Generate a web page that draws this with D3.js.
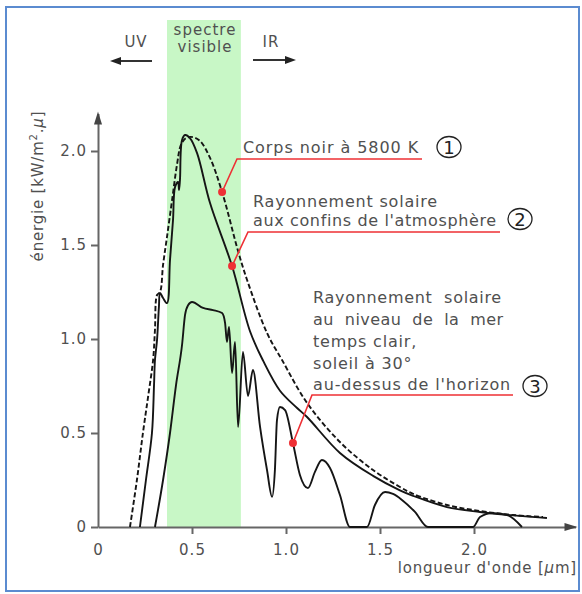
<!DOCTYPE html>
<html>
<head>
<meta charset="utf-8">
<script src="https://cdn.jsdelivr.net/npm/d3@7"></script>
<style>
  html, body { margin: 0; padding: 0; background: #fff; }
  svg { display: block; }
  text { font-family: "DejaVu Sans", Verdana, sans-serif; }
</style>
</head>
<body>
<script>
// ---------- DATA ----------
// Curve 1: black body at 5800 K (dashed)
const blackbodyLambda = [0.17,0.207,0.239,0.266,0.293,0.303,0.314,0.33,0.346,0.367,0.394,0.42,0.441,0.468,0.505,0.543,0.596,0.66,0.745,0.793,0.899,0.979,1.112,1.287,1.463,1.606,1.676,1.856,2.032,2.207,2.367];
const blackbodyValue  = [0,0.25,0.5,0.69,0.888,1.048,1.234,1.25,1.394,1.543,1.739,1.926,2.032,2.069,2.074,2.053,1.963,1.782,1.468,1.314,1.032,0.888,0.66,0.452,0.303,0.213,0.176,0.117,0.085,0.064,0.053];

// Curve 2: solar radiation at top of atmosphere
const topAtmLambda = [0.223,0.255,0.287,0.298,0.303,0.314,0.324,0.33,0.346,0.367,0.383,0.399,0.41,0.426,0.431,0.436,0.447,0.463,0.489,0.527,0.596,0.713,0.809,0.878,0.968,1.059,1.112,1.287,1.463,1.606,1.676,1.856,2.032,2.245,2.388];
const topAtmValue  = [0,0.25,0.5,0.755,0.888,0.995,1.17,1.245,1.218,1.191,1.42,1.633,1.809,1.835,1.793,1.846,2.059,2.085,2.069,1.989,1.723,1.388,1.04,0.885,0.725,0.633,0.585,0.394,0.272,0.195,0.166,0.106,0.08,0.059,0.048];

// Curve 3: solar radiation at sea level, clear sky, sun 30° above horizon
const seaLevelLambda = [0.303,0.346,0.383,0.415,0.447,0.463,0.479,0.5,0.559,0.612,0.66,0.676,0.686,0.697,0.713,0.729,0.745,0.771,0.798,0.824,0.862,0.899,0.926,0.941,0.952,0.968,0.995,1.037,1.074,1.117,1.154,1.191,1.234,1.287,1.34,1.431,1.473,1.527,1.569,1.617,1.686,1.755,1.995,2.032,2.096,2.176,2.255];
const seaLevelValue  = [0,0.25,0.5,0.755,0.968,1.128,1.18,1.197,1.165,1.154,1.138,1.085,0.984,1.064,0.819,0.984,0.532,0.931,0.697,0.835,0.532,0.303,0.16,0.303,0.569,0.638,0.622,0.447,0.277,0.207,0.293,0.356,0.314,0.17,0,0,0.117,0.186,0.176,0.144,0.08,0,0,0.053,0.074,0.064,0];

// Visible spectrum band (µm)
const visibleBand = [0.367, 0.76];

// Axis ticks
const yTickValues = [0, 0.5, 1.0, 1.5, 2.0];
const yTickLabels = ["0", "0.5", "1.0", "1.5", "2.0"];
const xTickValues = [0, 0.5, 1.0, 1.5, 2.0];
const xTickLabels = ["0", "0.5", "1.0", "1.5", "2.0"];

// Annotation anchor points (on curves 1, 2, 3)
const annotationLambda = [0.66, 0.713, 1.037];
const annotationValue  = [1.782, 1.388, 0.447];
const annotationNumbers = ["1", "2", "3"];
const annotationLines = [
  ["Corps noir à 5800 K"],
  ["Rayonnement solaire", "aux confins de l'atmosphère"],
  ["Rayonnement  solaire", "au  niveau  de  la  mer", "temps clair,", "soleil à 30°", "au-dessus de l'horizon"]
];

// ---------- DRAW ----------
const W = 582, H = 594;
const svg = d3.select("body").append("svg").attr("width", W).attr("height", H);

svg.append("rect").attr("width", W).attr("height", H).attr("fill", "#fff");

const x = d3.scaleLinear().domain([0, 2.54]).range([98, 98 + 2.54 * 188]);
const y = d3.scaleLinear().domain([0, 2.2]).range([527, 527 - 2.2 * 188]);

const axisColor = "#666";
const textColor = "#505050";

// visible band
svg.append("rect")
  .attr("x", x(visibleBand[0]))
  .attr("y", 20)
  .attr("width", x(visibleBand[1]) - x(visibleBand[0]))
  .attr("height", y(0) - 20)
  .attr("fill", "#c8f7c6");

// top labels
const topLabels = svg.append("g").attr("fill", textColor).style("font-size", "15px").style("letter-spacing", "1px");
topLabels.append("text").attr("x", 136).attr("y", 47).attr("text-anchor", "middle").text("UV");
topLabels.append("text").attr("x", 271).attr("y", 47).attr("text-anchor", "middle").text("IR");
topLabels.append("text").attr("x", 205).attr("y", 35).attr("text-anchor", "middle").text("spectre");
topLabels.append("text").attr("x", 205).attr("y", 52).attr("text-anchor", "middle").text("visible");

function arrow(x1, x2, yy) {
  const dir = Math.sign(x2 - x1);
  svg.append("line").attr("x1", x1).attr("x2", x2 - dir * 8).attr("y1", yy).attr("y2", yy)
    .attr("stroke", "#333").attr("stroke-width", 2);
  svg.append("path")
    .attr("d", `M${x2},${yy} L${x2 - dir * 11},${yy - 4} L${x2 - dir * 11},${yy + 4} Z`)
    .attr("fill", "#222");
}
arrow(152, 110, 61);
arrow(253, 296, 60);

// Y axis
const yAxis = d3.axisLeft(y).tickValues(yTickValues)
  .tickFormat((d, i) => yTickLabels[i]).tickSize(7).tickSizeOuter(0).tickPadding(4);
const gy = svg.append("g").attr("transform", `translate(${x(0)},0)`).call(yAxis);
gy.select(".domain").attr("stroke", axisColor).attr("stroke-width", 2);
gy.selectAll(".tick line").attr("stroke", axisColor).attr("stroke-width", 2);
gy.selectAll(".tick text").attr("fill", textColor).style("font-size", "15px")
  .style("letter-spacing", "1px").style("font-family", "DejaVu Sans");
svg.append("path")
  .attr("d", `M${x(0)},${y(2.2) - 2} L${x(0) - 4},${y(2.2) + 11} L${x(0) + 4},${y(2.2) + 11} Z`)
  .attr("fill", "#444");

// X axis
const xAxis = d3.axisBottom(x).tickValues(xTickValues)
  .tickFormat((d, i) => xTickLabels[i]).tickSize(7).tickSizeOuter(0).tickPadding(10);
const gx = svg.append("g").attr("transform", `translate(0,${y(0)})`).call(xAxis);
gx.select(".domain").attr("stroke", axisColor).attr("stroke-width", 2);
gx.selectAll(".tick line").attr("stroke", axisColor).attr("stroke-width", 2)
  .attr("opacity", d => d === 0 ? 0 : 1);
gx.selectAll(".tick text").attr("fill", textColor).style("font-size", "15px")
  .style("letter-spacing", "1px").style("font-family", "DejaVu Sans");
svg.append("path")
  .attr("d", `M${x(2.54) + 2},${y(0)} L${x(2.54) - 11},${y(0) - 4} L${x(2.54) - 11},${y(0) + 4} Z`)
  .attr("fill", "#444");

// axis titles
svg.append("text")
  .attr("transform", "translate(43,186) rotate(-90)")
  .attr("text-anchor", "middle").attr("fill", textColor)
  .style("font-size", "15px").style("letter-spacing", "0.8px")
  .html('énergie [kW/m<tspan dy="-6" style="font-size:10px">2</tspan><tspan dy="6">.</tspan><tspan font-style="italic">μ</tspan>]');

svg.append("text")
  .attr("x", 577).attr("y", 573).attr("text-anchor", "end").attr("fill", textColor)
  .style("font-size", "15px").style("letter-spacing", "0.8px")
  .html('longueur d\'onde [<tspan font-style="italic">μ</tspan>m]');

// curves
const zip = (a, b) => a.map((v, i) => [v, b[i]]);
const smoothLine = d3.line().x(d => x(d[0])).y(d => y(d[1])).curve(d3.curveCatmullRom.alpha(0.5));
const monoLine = d3.line().x(d => x(d[0])).y(d => y(d[1])).curve(d3.curveMonotoneX);

svg.append("path").datum(zip(seaLevelLambda, seaLevelValue))
  .attr("d", monoLine).attr("fill", "none").attr("stroke", "#151515").attr("stroke-width", 1.9);
svg.append("path").datum(zip(topAtmLambda, topAtmValue))
  .attr("d", smoothLine).attr("fill", "none").attr("stroke", "#151515").attr("stroke-width", 1.9);
svg.append("path").datum(zip(blackbodyLambda, blackbodyValue))
  .attr("d", smoothLine).attr("fill", "none").attr("stroke", "#151515").attr("stroke-width", 1.9)
  .attr("stroke-dasharray", "5,2.5");

// annotations
const red = "#ee3035";
const annLayout = [
  { tx: 243, ty: [153], fit: [176], ux1: 237, ux2: 422, uy: 159, cx: 449, cy: 147 },
  { tx: 253, ty: [207, 226], fit: [null, 244], ux1: 248, ux2: 500, uy: 232, cx: 520, cy: 219 },
  { tx: 313, ty: [303, 325, 347, 369, 390], fit: [189, 191, null, null, 198], ux1: 312, ux2: 513, uy: 395, cx: 535, cy: 386 }
];
annLayout.forEach((L, i) => {
  const px = x(annotationLambda[i]), py = y(annotationValue[i]);
  const g = svg.append("g");
  g.append("path")
    .attr("d", `M${L.ux2},${L.uy} L${L.ux1},${L.uy} L${px},${py}`)
    .attr("fill", "none").attr("stroke", red).attr("stroke-width", 1.6);
  g.append("circle").attr("cx", px).attr("cy", py).attr("r", 4).attr("fill", red);
  annotationLines[i].forEach((t, j) => {
    const tx = g.append("text").attr("x", L.tx).attr("y", L.ty[j]).attr("fill", textColor)
      .style("font-size", "16px").style("letter-spacing", "0.8px")
      .style("white-space", "pre").attr("xml:space", "preserve")
      .text(t);
    if (L.fit[j]) tx.attr("textLength", L.fit[j]).attr("lengthAdjust", "spacing");
  });
  g.append("ellipse").attr("cx", L.cx).attr("cy", L.cy).attr("rx", 12).attr("ry", 10.5)
    .attr("fill", "none").attr("stroke", "#222").attr("stroke-width", 1.3);
  g.append("text").attr("x", L.cx).attr("y", L.cy + 6.5).attr("text-anchor", "middle")
    .attr("fill", "#222").style("font-size", "18px").text(annotationNumbers[i]);
});

// frame
svg.append("rect").attr("x", 6).attr("y", 7).attr("width", 573).attr("height", 584)
  .attr("fill", "none").attr("stroke", "#5b8bd0").attr("stroke-width", 2);
</script>
</body>
</html>
